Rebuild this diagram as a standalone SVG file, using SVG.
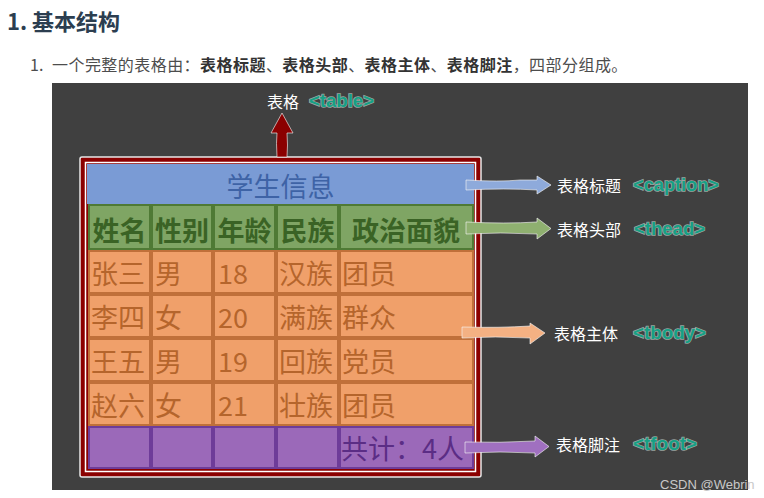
<svg xmlns="http://www.w3.org/2000/svg" width="764" height="498" viewBox="0 0 764 498">
<style>
.cjk{font-family:"Noto Sans CJK SC","Noto Sans",sans-serif}
.h1{font-size:22px;font-weight:bold;fill:#2c3e50}
.p{font-size:16px;fill:#4d4d4d}
.pb{font-weight:bold;fill:#333}
.cap{font-size:27px;fill:#3e63a6}
.th{font-size:27px;font-weight:bold;fill:#3a6325}
.td{font-size:27px;fill:#b5652c}
.tf{font-size:27px;fill:#5b2d85}
.lbl{font-size:16px;fill:#ffffff}
.tag{font-family:"Liberation Sans",Arial,sans-serif;font-size:18px;font-weight:bold;fill:#16a085;stroke:#e8fff8;stroke-opacity:0.55;stroke-width:1.4;paint-order:stroke}
.hc{fill:#7fa564;stroke:#4f7a35;stroke-width:2}
.bc{fill:#f0a06a;stroke:#c0703a;stroke-width:2}
.fc{fill:#9b69b9;stroke:#6e3c99;stroke-width:2}
.arr{stroke:#f4f4f4;stroke-width:0.8;stroke-opacity:0.8}
</style>
<rect width="764" height="498" fill="#ffffff"/>
<text class="cjk h1" x="7" y="30">1. 基本结构</text>
<text class="cjk p" x="30" y="71">1.</text>
<text class="cjk p" x="52" y="71" letter-spacing="0.45">一个完整的表格由：<tspan class="pb">表格标题</tspan>、<tspan class="pb">表格头部</tspan>、<tspan class="pb">表格主体</tspan>、<tspan class="pb">表格脚注</tspan>，四部分组成。</text>
<rect x="52" y="83" width="696" height="407" fill="#404040"/>

<g id="table">
<rect x="80" y="157" width="401" height="320" rx="2" fill="#8b0000" stroke="#e6e6e6" stroke-width="1.5"/>
<rect x="85.5" y="162.5" width="390" height="309" fill="none" stroke="#ffffff" stroke-width="1.5"/>
</g>
<g id="caption">
<rect x="87" y="164" width="387" height="40" fill="#7a9bd5"/>
<text class="cjk cap" x="280.5" y="185" text-anchor="middle" dominant-baseline="central">学生信息</text>
</g>
<g id="thead">
<rect class="hc" x="89" y="205" width="61" height="44"/>
<rect class="hc" x="152" y="205" width="60" height="44"/>
<rect class="hc" x="214" y="205" width="61" height="44"/>
<rect class="hc" x="277" y="205" width="61" height="44"/>
<rect class="hc" x="340" y="205" width="133" height="44"/>
<g class="cjk th" text-anchor="middle">
<text x="119.5" y="229" dominant-baseline="central">姓名</text>
<text x="182" y="229" dominant-baseline="central">性别</text>
<text x="244.5" y="229" dominant-baseline="central">年龄</text>
<text x="307.5" y="229" dominant-baseline="central">民族</text>
<text x="406" y="229" dominant-baseline="central">政治面貌</text>
</g>
</g>
<g id="tbody">
<g>
<rect class="bc" x="89" y="251" width="61" height="42"/><rect class="bc" x="152" y="251" width="60" height="42"/><rect class="bc" x="214" y="251" width="61" height="42"/><rect class="bc" x="277" y="251" width="61" height="42"/><rect class="bc" x="340" y="251" width="133" height="42"/>
<rect class="bc" x="89" y="295" width="61" height="42"/><rect class="bc" x="152" y="295" width="60" height="42"/><rect class="bc" x="214" y="295" width="61" height="42"/><rect class="bc" x="277" y="295" width="61" height="42"/><rect class="bc" x="340" y="295" width="133" height="42"/>
<rect class="bc" x="89" y="339" width="61" height="42"/><rect class="bc" x="152" y="339" width="60" height="42"/><rect class="bc" x="214" y="339" width="61" height="42"/><rect class="bc" x="277" y="339" width="61" height="42"/><rect class="bc" x="340" y="339" width="133" height="42"/>
<rect class="bc" x="89" y="383" width="61" height="42"/><rect class="bc" x="152" y="383" width="60" height="42"/><rect class="bc" x="214" y="383" width="61" height="42"/><rect class="bc" x="277" y="383" width="61" height="42"/><rect class="bc" x="340" y="383" width="133" height="42"/>
</g>
<g class="cjk td">
<text x="91" y="272" dominant-baseline="central">张三</text><text x="155" y="272" dominant-baseline="central">男</text><text x="218" y="272" dominant-baseline="central">18</text><text x="279" y="272" dominant-baseline="central">汉族</text><text x="342" y="272" dominant-baseline="central">团员</text>
<text x="91" y="316" dominant-baseline="central">李四</text><text x="155" y="316" dominant-baseline="central">女</text><text x="218" y="316" dominant-baseline="central">20</text><text x="279" y="316" dominant-baseline="central">满族</text><text x="342" y="316" dominant-baseline="central">群众</text>
<text x="91" y="360" dominant-baseline="central">王五</text><text x="155" y="360" dominant-baseline="central">男</text><text x="218" y="360" dominant-baseline="central">19</text><text x="279" y="360" dominant-baseline="central">回族</text><text x="342" y="360" dominant-baseline="central">党员</text>
<text x="91" y="404" dominant-baseline="central">赵六</text><text x="155" y="404" dominant-baseline="central">女</text><text x="218" y="404" dominant-baseline="central">21</text><text x="279" y="404" dominant-baseline="central">壮族</text><text x="342" y="404" dominant-baseline="central">团员</text>
</g>
</g>
<g id="tfoot">
<rect class="fc" x="89" y="427" width="61" height="41"/><rect class="fc" x="152" y="427" width="60" height="41"/><rect class="fc" x="214" y="427" width="61" height="41"/><rect class="fc" x="277" y="427" width="61" height="41"/><rect class="fc" x="340" y="427" width="133" height="41"/>
<text class="cjk tf" x="341" y="447" dominant-baseline="central">共计：4人</text>
</g>

<g id="connectors">
<path class="arr" fill="#8b0000" d="M277,157 Q276,142 277,133 L271,133 L282,113 L293,133 L287,133 Q288,145 287,157 Z"/>
<path class="arr" fill="#8eaadb" d="M466,180 Q500,182 520,180 L537,180 L537,176 L551,185 L537,194 L537,190 Q505,188 466,190 Z"/>
<path class="arr" fill="#8fb070" d="M466,222 Q505,224 537,222 L537,218 L551,228.5 L537,239 L537,234 Q500,232 466,234 Z"/>
<path class="arr" fill="#f4b183" d="M462,327 Q500,328 530,326 L530,323 L545,333 L530,344 L530,338 Q495,336 462,338 Z"/>
<path class="arr" fill="#a070c0" d="M465,442 Q500,443 535,441 L535,436 L549,446.5 L535,457 L535,453 Q500,451 465,453 Z"/>
</g>

<g id="labels">
<text class="cjk lbl" x="267" y="101" dominant-baseline="central" font-size="17">表格</text>
<text class="tag" x="309" y="107" textLength="65" lengthAdjust="spacingAndGlyphs">&lt;table&gt;</text>
<text class="cjk lbl" x="557" y="185" dominant-baseline="central">表格标题</text>
<text class="tag" x="633" y="191" textLength="86" lengthAdjust="spacingAndGlyphs">&lt;caption&gt;</text>
<text class="cjk lbl" x="557" y="229" dominant-baseline="central">表格头部</text>
<text class="tag" x="634" y="235" textLength="71" lengthAdjust="spacingAndGlyphs">&lt;thead&gt;</text>
<text class="cjk lbl" x="554" y="333" dominant-baseline="central">表格主体</text>
<text class="tag" x="633" y="339" textLength="73" lengthAdjust="spacingAndGlyphs">&lt;tbody&gt;</text>
<text class="cjk lbl" x="556" y="444" dominant-baseline="central">表格脚注</text>
<text class="tag" x="633" y="450" textLength="64" lengthAdjust="spacingAndGlyphs">&lt;tfoot&gt;</text>
</g>
<text x="660" y="489" font-family="Liberation Sans,Arial,sans-serif" font-size="13" fill="#c8c8c8">CSDN @Webrin</text>
</svg>
